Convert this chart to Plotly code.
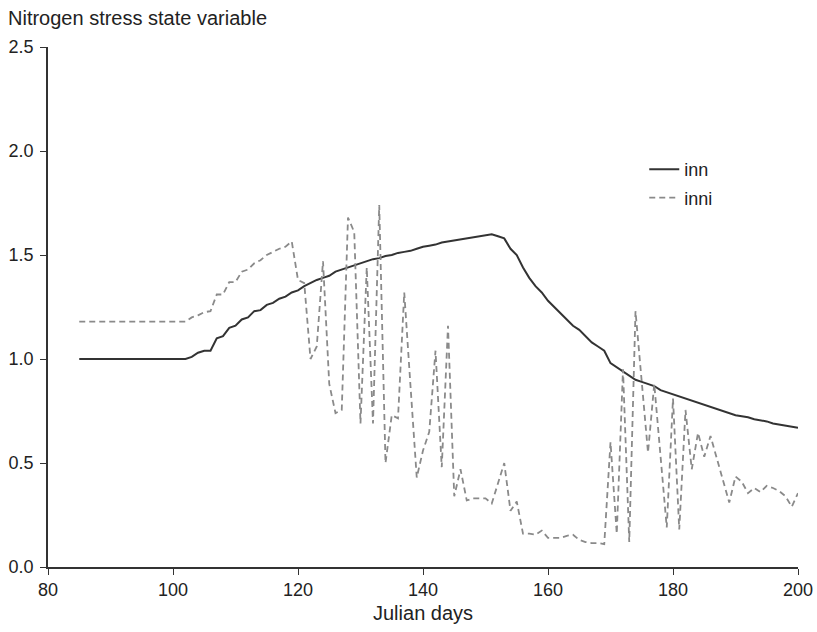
import plotly.graph_objects as go

# Julian days, one value per day
days = list(range(85, 201))

inn = [1.0] * 18 + [
    1.01, 1.03, 1.04, 1.04, 1.10, 1.11, 1.15, 1.16, 1.19, 1.20,      # 103-112
    1.23, 1.235, 1.26, 1.27, 1.29, 1.30, 1.32, 1.33, 1.35, 1.365,    # 113-122
    1.38, 1.39, 1.40, 1.42, 1.43, 1.44, 1.45, 1.46, 1.47, 1.48,      # 123-132
    1.485, 1.495, 1.50, 1.51, 1.515, 1.52, 1.53, 1.54, 1.545, 1.55,  # 133-142
    1.56, 1.565, 1.57, 1.575, 1.58, 1.585, 1.59, 1.595, 1.60, 1.59,  # 143-152
    1.58, 1.53, 1.50, 1.44, 1.39, 1.35, 1.32, 1.28, 1.25, 1.22,      # 153-162
    1.19, 1.16, 1.14, 1.11, 1.08, 1.06, 1.04, 0.98, 0.96, 0.94,      # 163-172
    0.92, 0.90, 0.89, 0.88, 0.87, 0.85, 0.84, 0.83, 0.82, 0.81,      # 173-182
    0.80, 0.79, 0.78, 0.77, 0.76, 0.75, 0.74, 0.73, 0.725, 0.72,     # 183-192
    0.71, 0.705, 0.70, 0.69, 0.685, 0.68, 0.675, 0.67,               # 193-200
]

inni = [1.18] * 18 + [
    1.20, 1.21, 1.225, 1.23, 1.31, 1.31, 1.37, 1.37, 1.42, 1.43,     # 103-112
    1.46, 1.475, 1.50, 1.515, 1.53, 1.54, 1.565, 1.38, 1.365, 1.00,  # 113-122
    1.06, 1.47, 0.88, 0.74, 0.755, 1.68, 1.61, 0.69, 1.44, 0.69,     # 123-132
    1.74, 0.50, 0.73, 0.715, 1.32, 0.87, 0.43, 0.56, 0.65, 1.04,     # 133-142
    0.48, 1.16, 0.34, 0.47, 0.32, 0.33, 0.33, 0.33, 0.305, 0.40,     # 143-152
    0.50, 0.27, 0.315, 0.16, 0.16, 0.155, 0.175, 0.14, 0.14, 0.14,   # 153-162
    0.15, 0.155, 0.13, 0.12, 0.115, 0.115, 0.11, 0.60, 0.16, 0.95,   # 163-172
    0.12, 1.23, 0.89, 0.55, 0.88, 0.53, 0.19, 0.81, 0.18, 0.755,     # 173-182
    0.47, 0.645, 0.53, 0.63, 0.52, 0.42, 0.31, 0.435, 0.41, 0.355,   # 183-192
    0.38, 0.36, 0.39, 0.38, 0.365, 0.34, 0.29, 0.355,                # 193-200
]

x_ticks = [80, 100, 120, 140, 160, 180, 200]
y_ticks = [0.0, 0.5, 1.0, 1.5, 2.0, 2.5]

font_family = 'Liberation Sans, Arial, sans-serif'
axis_color = '#333333'
text_color = '#222222'

fig = go.Figure()

fig.add_trace(go.Scatter(x=days, y=inn, name='inn', mode='lines', legendgroup='inn',
                         line=dict(color='#333333', width=2)))
fig.add_trace(go.Scatter(x=days, y=inni, name='inni', mode='lines', legendgroup='inni',
                         line=dict(color='#8a8a8a', width=1.8, dash='6px,4px')))

fig.update_xaxes(range=[80, 200], tickvals=x_ticks, ticktext=[str(v) for v in x_ticks],
                 showgrid=False, zeroline=False, showline=True, linecolor=axis_color,
                 linewidth=1.5, ticks='outside', ticklen=6, tickcolor=axis_color,
                 tickfont=dict(size=18, color=text_color), automargin=False)

fig.update_yaxes(range=[0, 2.5], tickvals=y_ticks, ticktext=['%.1f' % v for v in y_ticks],
                 showgrid=False, zeroline=False, showline=True, linecolor=axis_color,
                 linewidth=1.5, ticks='outside', ticklen=6, tickcolor=axis_color,
                 ticklabelstandoff=3,
                 tickfont=dict(size=18, color=text_color), automargin=False)

# y title sits horizontally above the axis, x title under the tick labels
fig.add_annotation(text='Nitrogen stress state variable', xref='paper', yref='paper',
                   x=-0.056, y=1.056, xanchor='left', yanchor='middle',
                   showarrow=False, font=dict(size=20, color=text_color))
fig.add_annotation(text='Julian days', xref='paper', yref='paper',
                   x=0.5, y=-0.088, xanchor='center', yanchor='middle',
                   showarrow=False, font=dict(size=20, color=text_color))

fig.update_layout(
    width=817, height=632,
    margin=dict(l=48, r=19, t=47, b=65),
    paper_bgcolor='white', plot_bgcolor='white',
    font=dict(family=font_family, size=18, color=text_color),
    showlegend=True,
    legend=dict(x=0.795, y=0.80, xanchor='left', yanchor='top', tracegroupgap=2,
                bgcolor='rgba(0,0,0,0)', font=dict(size=18, color=text_color)),
)

# drop the default page margin so the figure fills the window exactly
fig.write_html('out.html',
               config={'displayModeBar': False},
               post_script="document.body.style.margin='0';document.body.style.overflow='hidden';")
